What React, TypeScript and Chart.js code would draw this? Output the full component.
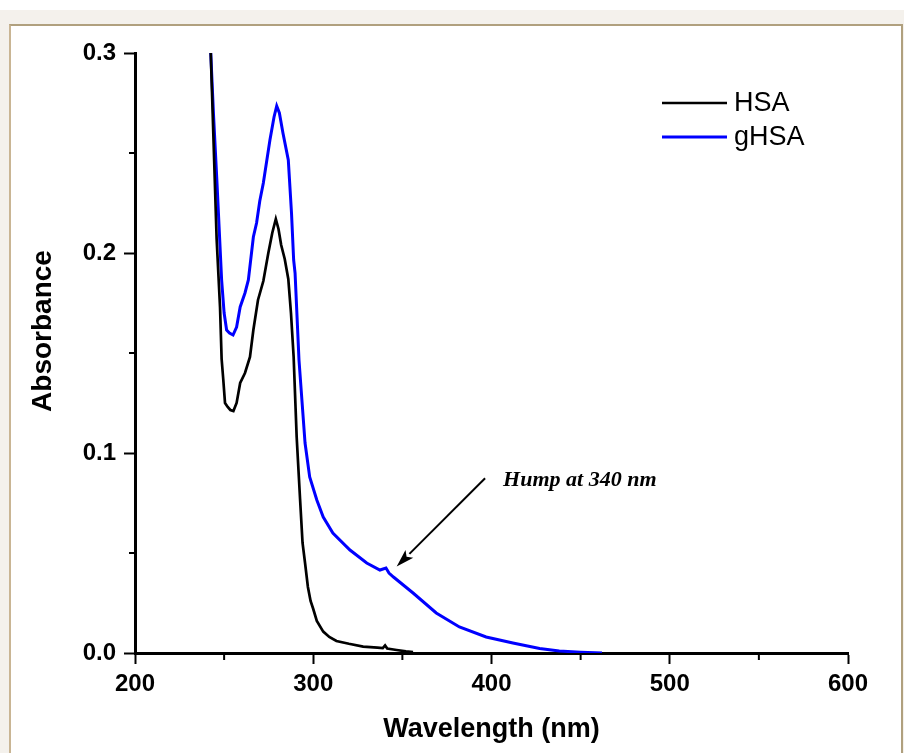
import React, { useEffect, useRef } from "react";
import { Chart, registerables } from "chart.js";

Chart.register(...registerables);

// ---- Data ----
const hsaWavelength = [
  242.5, 243.5, 245.8, 247.7, 248.6, 249.5, 250.5, 252, 253.5, 255.2, 257, 259,
  261.7, 264.5, 266.4, 269, 272, 274.8, 277, 279, 280.5, 282, 284, 286, 287.5,
  289, 290.7, 292.6, 294, 295.4, 297, 298.5, 300, 302, 305.6, 309, 313, 320,
  328, 336, 339, 340.3, 341.5, 346.8, 352, 356,
];
const hsaAbsorbance = [
  0.3, 0.272, 0.207, 0.173, 0.147, 0.137, 0.125, 0.123, 0.1215, 0.121, 0.125,
  0.135, 0.14, 0.148, 0.1615, 0.1765, 0.186, 0.2, 0.21, 0.217, 0.212, 0.204,
  0.197, 0.187, 0.17, 0.148, 0.108, 0.077, 0.055, 0.045, 0.033, 0.026, 0.022,
  0.016, 0.0107, 0.008, 0.006, 0.0046, 0.0032, 0.0027, 0.0024, 0.0038, 0.0022,
  0.0015, 0.0008, 0.0005,
];
const ghsaWavelength = [
  242.5, 244, 246, 248.6, 250, 251.4, 253, 255, 257, 259, 261.7, 263.6, 266.4,
  268.2, 270, 272, 275.7, 278, 279.5, 281, 283, 286, 287.8, 289, 289.8, 292,
  295.4, 298, 302, 305.6, 311, 320.6, 330, 337.4, 340.8, 342.5, 345, 356, 369,
  382, 397, 412, 427, 438, 450, 462,
];
const ghsaAbsorbance = [
  0.3, 0.27, 0.235, 0.1865, 0.17, 0.1615, 0.16, 0.159, 0.163, 0.173, 0.18,
  0.1865, 0.208, 0.215, 0.226, 0.235, 0.2565, 0.268, 0.2735, 0.27, 0.26,
  0.2465, 0.22, 0.1965, 0.19, 0.1465, 0.105, 0.088, 0.0765, 0.068, 0.06,
  0.0515, 0.045, 0.0415, 0.0425, 0.04, 0.038, 0.03, 0.02, 0.013, 0.008, 0.005,
  0.0023, 0.001, 0.0004, 0.0,
];
const seriesLabels = ["HSA", "gHSA"];
const seriesColors = ["#000000", "#0000ff"];
const xRange = [200, 600];
const yRange = [0, 0.3];
const xStep = 100;
const yStep = 0.1;
const xTitle = "Wavelength (nm)";
const yTitle = "Absorbance";
const annotationText = "Hump at 340 nm";
// annotation anchor points in data units: [wavelength, absorbance]
const annotationTextAt = [406.5, 0.0835];
const arrowFrom = [396.4, 0.0874];
const arrowTo = [346.8, 0.0432];

const toPoints = (xs: number[], ys: number[]) =>
  xs.map((x, i) => ({ x, y: ys[i] }));

const overlayPlugin = {
  id: "overlay",
  afterDraw(chart: any) {
    const ctx = chart.ctx as CanvasRenderingContext2D;
    const xs = chart.scales.x;
    const ys = chart.scales.y;
    const area = chart.chartArea;
    ctx.save();

    // minor ticks
    ctx.strokeStyle = "#000";
    ctx.lineWidth = 2;
    for (let v = xRange[0] + xStep / 2; v < xRange[1]; v += xStep) {
      const px = xs.getPixelForValue(v);
      ctx.beginPath();
      ctx.moveTo(px, area.bottom);
      ctx.lineTo(px, area.bottom + 7);
      ctx.stroke();
    }
    for (let v = yRange[0] + yStep / 2; v < yRange[1]; v += yStep) {
      const py = ys.getPixelForValue(v);
      ctx.beginPath();
      ctx.moveTo(area.left - 6, py);
      ctx.lineTo(area.left, py);
      ctx.stroke();
    }

    // y-axis title
    ctx.save();
    ctx.translate(43, 331);
    ctx.rotate(-Math.PI / 2);
    ctx.font = "bold 28px 'Liberation Sans', Arial, sans-serif";
    ctx.fillStyle = "#000";
    ctx.textAlign = "center";
    ctx.textBaseline = "middle";
    ctx.fillText(yTitle, 0, 0);
    ctx.restore();

    // legend
    const datasets = chart.data.datasets;
    datasets.forEach((ds: any, i: number) => {
      const ly = area.top + 50 + i * 34;
      const lx0 = area.right - 186;
      const lx1 = area.right - 121;
      ctx.strokeStyle = ds.borderColor;
      ctx.lineWidth = ds.borderWidth;
      ctx.beginPath();
      ctx.moveTo(lx0, ly);
      ctx.lineTo(lx1, ly);
      ctx.stroke();
      ctx.fillStyle = "#000";
      ctx.font = "27px 'Liberation Sans', Arial, sans-serif";
      ctx.textAlign = "left";
      ctx.textBaseline = "middle";
      ctx.fillText(ds.label, lx1 + 7, ly + 1);
    });

    // annotation text
    ctx.font = "italic bold 22px 'Liberation Serif', 'Times New Roman', serif";
    ctx.fillStyle = "#000";
    ctx.textAlign = "left";
    ctx.textBaseline = "alphabetic";
    ctx.fillText(
      annotationText,
      xs.getPixelForValue(annotationTextAt[0]),
      ys.getPixelForValue(annotationTextAt[1])
    );

    // arrow
    const ax0 = xs.getPixelForValue(arrowFrom[0]);
    const ay0 = ys.getPixelForValue(arrowFrom[1]);
    const ax1 = xs.getPixelForValue(arrowTo[0]);
    const ay1 = ys.getPixelForValue(arrowTo[1]);
    const ang = Math.atan2(ay1 - ay0, ax1 - ax0);
    const headLen = 18;
    const headHalf = 5.5;
    const bx = ax1 - headLen * Math.cos(ang);
    const by = ay1 - headLen * Math.sin(ang);
    ctx.strokeStyle = "#000";
    ctx.lineWidth = 2;
    ctx.beginPath();
    ctx.moveTo(ax0, ay0);
    ctx.lineTo(bx, by);
    ctx.stroke();
    ctx.fillStyle = "#000";
    ctx.beginPath();
    ctx.moveTo(ax1, ay1);
    ctx.lineTo(bx + headHalf * Math.sin(ang), by - headHalf * Math.cos(ang));
    ctx.lineTo(bx + 4 * Math.cos(ang), by + 4 * Math.sin(ang));
    ctx.lineTo(bx - headHalf * Math.sin(ang), by + headHalf * Math.cos(ang));
    ctx.closePath();
    ctx.fill();

    ctx.restore();
  },
};

export default function App() {
  const canvasRef = useRef<HTMLCanvasElement | null>(null);

  useEffect(() => {
    if (!canvasRef.current) return;
    const chart = new Chart(canvasRef.current, {
      type: "line",
      data: {
        datasets: [
          {
            label: seriesLabels[0],
            data: toPoints(hsaWavelength, hsaAbsorbance),
            borderColor: seriesColors[0],
            borderWidth: 2.7,
            pointRadius: 0,
            tension: 0,
            fill: false,
          },
          {
            label: seriesLabels[1],
            data: toPoints(ghsaWavelength, ghsaAbsorbance),
            borderColor: seriesColors[1],
            borderWidth: 3,
            pointRadius: 0,
            tension: 0,
            fill: false,
          },
        ],
      },
      options: {
        responsive: false,
        animation: false,
        devicePixelRatio: 1,
        layout: { padding: { left: 0, top: 53, right: 56, bottom: 0 } },
        plugins: {
          legend: { display: false },
          tooltip: { enabled: false },
        },
        scales: {
          x: {
            type: "linear",
            min: xRange[0],
            max: xRange[1],
            afterFit: (s: any) => {
              s.height = 100;
            },
            ticks: {
              stepSize: xStep,
              color: "#000",
              padding: 6,
              maxRotation: 0,
              font: { family: "'Liberation Sans', Arial, sans-serif", size: 24, weight: "bold" },
              callback: (v: any) => String(v),
            },
            grid: {
              drawOnChartArea: false,
              drawTicks: true,
              tickLength: 11,
              tickWidth: 2,
              tickColor: "#000",
            },
            border: { display: true, color: "#000", width: 3 },
            title: {
              display: true,
              text: xTitle,
              color: "#000",
              font: { family: "'Liberation Sans', Arial, sans-serif", size: 27, weight: "bold" },
              padding: { top: 0, bottom: 7 },
            },
          },
          y: {
            type: "linear",
            min: yRange[0],
            max: yRange[1],
            afterFit: (s: any) => {
              s.width = 135;
            },
            ticks: {
              stepSize: yStep,
              color: "#000",
              padding: 8,
              font: { family: "'Liberation Sans', Arial, sans-serif", size: 24, weight: "bold" },
              callback: (v: any) => Number(v).toFixed(1),
            },
            grid: {
              drawOnChartArea: false,
              drawTicks: true,
              tickLength: 11,
              tickWidth: 2,
              tickColor: "#000",
            },
            border: { display: true, color: "#000", width: 3 },
            title: { display: false },
          },
        },
      },
      plugins: [overlayPlugin],
    });
    return () => chart.destroy();
  }, []);

  return (
    <div
      style={{
        position: "absolute",
        left: 0,
        top: 0,
        width: 904,
        height: 753,
        background: "#ffffff",
        overflow: "hidden",
      }}
    >
      <div
        style={{
          position: "absolute",
          left: 0,
          top: 10,
          width: 904,
          height: 743,
          background: "#f4f1ec",
        }}
      />
      <div
        style={{
          position: "absolute",
          left: 9,
          top: 24,
          width: 890,
          height: 760,
          background: "#ffffff",
          borderTop: "2px solid #b0a07e",
          borderLeft: "2px solid #c9b594",
          borderRight: "2px solid #b0a07e",
        }}
      />
      <canvas
        ref={canvasRef}
        width={904}
        height={753}
        style={{ position: "absolute", left: 0, top: 0, width: 904, height: 753 }}
      />
    </div>
  );
}
